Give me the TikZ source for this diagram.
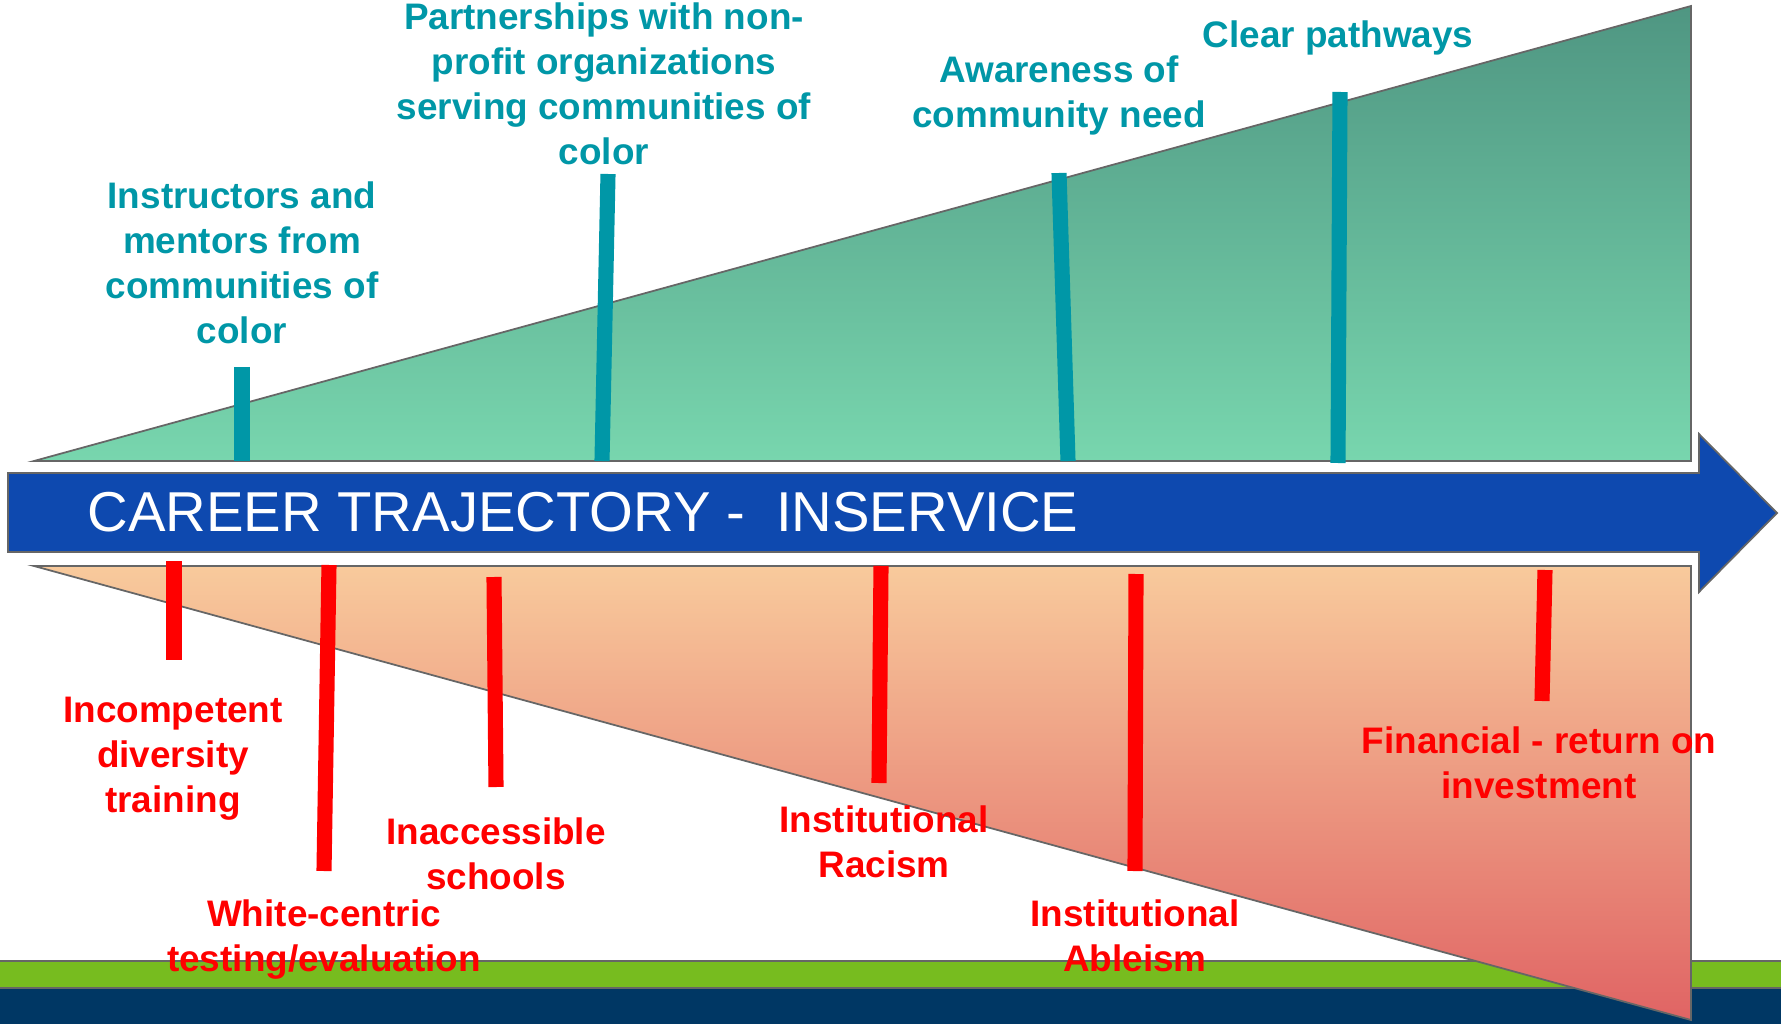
\documentclass[tikz,border=0pt]{standalone}
\usepackage{fontspec}
\setmainfont{Liberation Sans}
\usetikzlibrary{positioning}
\definecolor{Teal}{HTML}{0097A7}
\definecolor{Alarm}{HTML}{FF0000}
\definecolor{Trajectory}{HTML}{0E49AF}
\definecolor{Outline}{HTML}{666666}
\definecolor{GrassBand}{HTML}{77BC1F}
\definecolor{NavyBand}{HTML}{003764}
\definecolor{GainTop}{HTML}{4F9682}
\definecolor{GainBottom}{HTML}{78D6AE}
\definecolor{LossTop}{HTML}{F8CA9C}
\definecolor{LossBottom}{HTML}{E06464}
\tikzset{
  support/.style={line width=4.3pt, color=Teal},
  barrier/.style={line width=4.3pt, color=Alarm},
  supportlabel/.style={align=center, inner sep=0pt, color=Teal, font=\fontsize{10.5}{12.8}\selectfont\bfseries},
  barrierlabel/.style={align=center, inner sep=0pt, color=Alarm, font=\fontsize{10.5}{12.8}\selectfont\bfseries},
  gain/.style={draw=Outline, line width=0.5pt, top color=GainTop, bottom color=GainBottom},
  loss/.style={draw=Outline, line width=0.5pt, top color=LossTop, bottom color=LossBottom},
  trajectory/.style={fill=Trajectory, draw=Outline, line width=0.5pt},
  title/.style={color=white, inner sep=0pt, anchor=west, font=\fontsize{16}{19}\selectfont},
}

\begin{document}
\begin{tikzpicture}[scale=1.0]
  \useasboundingbox (0,0) rectangle (17.81,10.24);

  % Footer bands
  \fill[NavyBand] (0,0) rectangle (17.81,0.36);
  \draw[fill=GrassBand, draw=Outline, line width=0.5pt] (-0.1,0.36) rectangle (17.91,0.63);

  % Supports wedge
  \draw[gain] (0.34,5.63) -- (16.91,10.18) -- (16.91,5.63) -- cycle;

  % Barriers wedge
  \draw[loss] (0.34,4.58) -- (16.91,4.58) -- (16.91,0.04) -- cycle;

  % Career arrow
  \draw[trajectory] (0.08,4.72) -- (0.08,5.51) -- (16.99,5.51) -- (16.99,5.90)
    -- (17.77,5.11) -- (16.99,4.32) -- (16.99,4.72) -- cycle;
  \node[title] (career) at (0.87,5.12) {CAREER TRAJECTORY -\ \ INSERVICE};

  % Support bars
  \draw[support] (2.42,6.57) -- (2.42,5.63);
  \draw[support] (6.08,8.50) -- (6.02,5.63);
  \draw[support] (10.59,8.51) -- (10.68,5.63);
  \draw[support] (13.40,9.32) -- (13.38,5.61);

  % Barrier bars
  \draw[barrier] (1.74,4.63) -- (1.74,3.64);
  \draw[barrier] (3.29,4.59) -- (3.24,1.53);
  \draw[barrier] (4.94,4.47) -- (4.96,2.37);
  \draw[barrier] (8.81,4.58) -- (8.79,2.41);
  \draw[barrier] (11.36,4.50) -- (11.35,1.53);
  \draw[barrier] (15.45,4.54) -- (15.42,3.23);

  % Support labels
  \node[supportlabel] (mentors) at (2.42,7.61) {Instructors and\\mentors from\\communities of\\color};
  \node[supportlabel] (partners) at (6.04,9.40) {Partnerships with non-\\profit organizations\\serving communities of\\color};
  \node[supportlabel] (awareness) at (10.59,9.29) {Awareness of\\community need};
  \node[supportlabel] (pathways) at (13.38,9.86) {Clear pathways};

  % Barrier labels
  \node[barrierlabel] (training) at (1.73,2.65) {Incompetent\\diversity\\training};
  \node[barrierlabel] (testing) at (3.24,0.84) {White-centric\\testing/evaluation};
  \node[barrierlabel] (schools) at (4.96,1.70) {Inaccessible\\schools};
  \node[barrierlabel] (racism) at (8.84,1.82) {Institutional\\Racism};
  \node[barrierlabel] (ableism) at (11.35,0.88) {Institutional\\Ableism};
  \node[barrierlabel] (finance) at (15.39,2.61) {Financial - return on\\investment};
\end{tikzpicture}
\end{document}
